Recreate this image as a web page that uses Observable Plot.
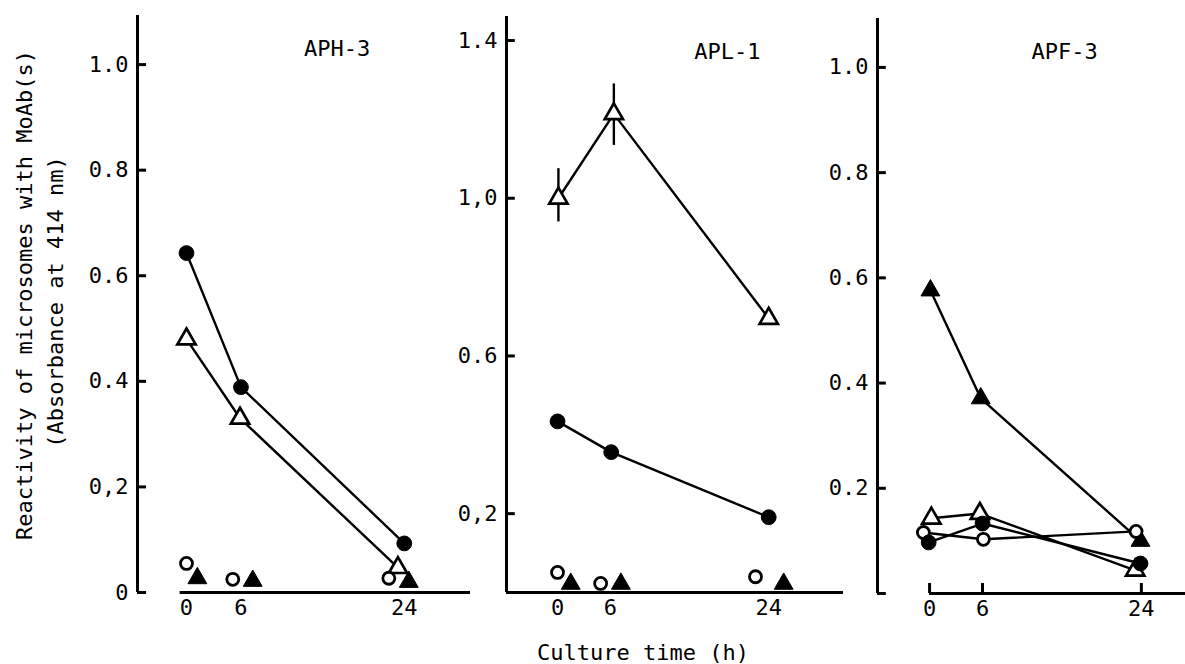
<!DOCTYPE html>
<html>
<head>
<meta charset="utf-8">
<script src="https://cdn.jsdelivr.net/npm/d3@7"></script>
<script src="https://cdn.jsdelivr.net/npm/@observablehq/plot@0.6"></script>
<style>
  html, body { margin: 0; padding: 0; background: white; }
  #chart { position: relative; width: 1185px; height: 664px; overflow: hidden; font-family: 'DejaVu Sans Mono', monospace; color: black; }
  .panel { position: absolute; top: 0; }
  .ytitle { position: absolute; white-space: nowrap; font-size: 22px; transform: translate(-50%, -50%) rotate(-90deg); }
  .xtitle { position: absolute; white-space: nowrap; font-size: 22px; transform: translate(-50%, -50%); }
</style>
</head>
<body>
<div id="chart"></div>
<script>
// ---------- DATA ----------
const xTickValues = [0, 6, 24];
const xTickLabels = ["0", "6", "24"];

// APH-3 panel
const aph3FilledCircleT = [0, 6, 24];
const aph3FilledCircleV = [0.643, 0.389, 0.093];
const aph3OpenTriangleT = [0, 5.9, 23.3];
const aph3OpenTriangleV = [0.48, 0.33, 0.047];
const aph3OpenCircleT = [0, 5.1, 22.3];
const aph3OpenCircleV = [0.055, 0.025, 0.027];
const aph3FilledTriangleT = [1.2, 7.3, 24.5];
const aph3FilledTriangleV = [0.027, 0.022, 0.02];
const aph3YTicks = [0, 0.2, 0.4, 0.6, 0.8, 1.0];
const aph3YLabels = ["0", "0,2", "0.4", "0.6", "0.8", "1.0"];

// APL-1 panel
const apl1FilledCircleT = [0, 6.1, 24];
const apl1FilledCircleV = [0.434, 0.356, 0.191];
const apl1OpenTriangleT = [0.1, 6.4, 24];
const apl1OpenTriangleV = [1.0, 1.214, 0.695];
const apl1OpenTriangleErrLo = [0.94, 1.134, null];
const apl1OpenTriangleErrHi = [1.075, 1.29, null];
const apl1OpenCircleT = [0, 4.9, 22.5];
const apl1OpenCircleV = [0.051, 0.023, 0.04];
const apl1FilledTriangleT = [1.5, 7.2, 25.7];
const apl1FilledTriangleV = [0.022, 0.022, 0.022];
const apl1YTicks = [0, 0.2, 0.6, 1.0, 1.4];
const apl1YLabels = ["", "0,2", "0.6", "1,0", "1.4"];

// APF-3 panel
const apf3FilledCircleT = [-0.1, 6, 23.9];
const apf3FilledCircleV = [0.097, 0.133, 0.057];
const apf3OpenTriangleT = [0.2, 5.7, 23.3];
const apf3OpenTriangleV = [0.143, 0.152, 0.044];
const apf3OpenCircleT = [-0.7, 6.1, 23.4];
const apf3OpenCircleV = [0.116, 0.103, 0.118];
const apf3FilledTriangleT = [0.1, 5.8, 23.9];
const apf3FilledTriangleV = [0.576, 0.371, 0.10];
const apf3YTicks = [0, 0.2, 0.4, 0.6, 0.8, 1.0];
const apf3YLabels = ["", "0.2", "0.4", "0.6", "0.8", "1.0"];

// ---------- helpers ----------
const rows = (t, v, extra = {}) => t.map((tt, i) => {
  const r = {t: tt, v: v[i]};
  for (const k in extra) r[k] = extra[k][i];
  return r;
});

const markerStyles = {
  filledCircle:   {symbol: "circle",   r: 7.4, fill: "black", stroke: "black", strokeWidth: 1},
  openCircle:     {symbol: "circle",   r: 6.0, fill: "white", stroke: "black", strokeWidth: 2.8},
  openTriangle:   {symbol: "triangle", r: 6.8, fill: "white", stroke: "black", strokeWidth: 2.7},
  filledTriangle: {symbol: "triangle", r: 7.0, fill: "black", stroke: "black", strokeWidth: 1}
};

const baseStyle = {
  fontFamily: "'DejaVu Sans Mono', monospace",
  fontSize: "22px",
  color: "black",
  background: "transparent",
  overflow: "visible"
};

function panel(cfg) {
  const marks = [];
  const x0 = cfg.xDomain[0];
  // axis lines
  marks.push(Plot.ruleX([x0], {y1: 0, y2: cfg.yDomain[1], stroke: "black", strokeWidth: 3}));
  marks.push(Plot.ruleY([0], {x1: cfg.baseStart, x2: cfg.xDomain[1], stroke: "black", strokeWidth: 3}));
  // inward y tick marks (length ~1 h of the x scale, about 9 px)
  marks.push(Plot.ruleY(cfg.yTicks, {x1: x0, x2: x0 + cfg.yTickLen, stroke: "black", strokeWidth: 3}));
  // upward x tick marks (APF-3 only)
  if (cfg.xTickUp) marks.push(Plot.ruleX(xTickValues, {y1: 0, y2: cfg.xTickLen, stroke: "black", strokeWidth: 3}));
  // y axis labels
  marks.push(Plot.axisY({
    ticks: cfg.yTicks, tickSize: 0, tickPadding: 9,
    tickFormat: (d) => cfg.yLabels[cfg.yTicks.indexOf(d)], label: null, fontSize: 22
  }));
  // x axis labels
  marks.push(Plot.axisX({
    ticks: xTickValues, tickSize: 0, tickPadding: 7,
    tickFormat: (d) => xTickLabels[xTickValues.indexOf(d)], label: null, fontSize: 22
  }));
  // error bars
  if (cfg.err) marks.push(Plot.ruleX(cfg.err.filter(d => d.lo != null), {x: "t", y1: "lo", y2: "hi", stroke: "black", strokeWidth: 2.4}));
  // lines
  for (const s of cfg.series) {
    if (s.connect) marks.push(Plot.line(s.data, {x: "t", y: "v", stroke: "black", strokeWidth: 2.4}));
  }
  // markers
  for (const s of cfg.series) {
    marks.push(Plot.dot(s.data, {x: "t", y: "v", ...markerStyles[s.kind]}));
  }
  // panel title
  marks.push(Plot.text([cfg.title], {x: cfg.titleAt[0], y: cfg.titleAt[1], fontSize: 22, textAnchor: "middle", fill: "black"}));

  const svg = Plot.plot({
    width: cfg.width, height: 664,
    marginLeft: cfg.ml, marginRight: cfg.mr, marginTop: cfg.mt, marginBottom: cfg.mb,
    x: {domain: cfg.xDomain},
    y: {domain: cfg.yDomain},
    style: baseStyle,
    marks
  });
  svg.classList.add("panel");
  svg.style.left = cfg.left + "px";
  svg.style.maxWidth = "none";
  return svg;
}

const chart = document.getElementById("chart");

chart.appendChild(panel({
  title: "APH-3", titleAt: [16.6, 1.03],
  left: 0, width: 480, ml: 137, mr: 10, mt: 15, mb: 72,
  xDomain: [-5.4, 31.3], yDomain: [0, 1.093], baseStart: -0.7, xTickUp: false, yTickLen: 1.0,
  yTicks: aph3YTicks, yLabels: aph3YLabels,
  series: [
    {kind: "filledCircle", connect: true, data: rows(aph3FilledCircleT, aph3FilledCircleV)},
    {kind: "openTriangle", connect: true, data: rows(aph3OpenTriangleT, aph3OpenTriangleV)},
    {kind: "openCircle", connect: false, data: rows(aph3OpenCircleT, aph3OpenCircleV)},
    {kind: "filledTriangle", connect: false, data: rows(aph3FilledTriangleT, aph3FilledTriangleV)}
  ]
}));

chart.appendChild(panel({
  title: "APL-1", titleAt: [19.3, 1.37],
  left: 440, width: 420, ml: 66, mr: 17, mt: 16, mb: 72,
  xDomain: [-5.8, 32.5], yDomain: [0, 1.461], baseStart: -5.8, xTickUp: false, yTickLen: 1.0,
  yTicks: apl1YTicks, yLabels: apl1YLabels,
  err: rows(apl1OpenTriangleT, apl1OpenTriangleV, {lo: apl1OpenTriangleErrLo, hi: apl1OpenTriangleErrHi}),
  series: [
    {kind: "filledCircle", connect: true, data: rows(apl1FilledCircleT, apl1FilledCircleV)},
    {kind: "openTriangle", connect: true, data: rows(apl1OpenTriangleT, apl1OpenTriangleV)},
    {kind: "openCircle", connect: false, data: rows(apl1OpenCircleT, apl1OpenCircleV)},
    {kind: "filledTriangle", connect: false, data: rows(apl1FilledTriangleT, apl1FilledTriangleV)}
  ]
}));

chart.appendChild(panel({
  title: "APF-3", titleAt: [15.3, 1.03],
  left: 820, width: 365, ml: 57, mr: 0, mt: 18, mb: 71,
  xDomain: [-5.9, 29.0], yDomain: [0, 1.093], baseStart: 0, xTickUp: true, yTickLen: 1.0, xTickLen: 0.019,
  yTicks: apf3YTicks, yLabels: apf3YLabels,
  series: [
    {kind: "filledTriangle", connect: true, data: rows(apf3FilledTriangleT, apf3FilledTriangleV)},
    {kind: "openTriangle", connect: true, data: rows(apf3OpenTriangleT, apf3OpenTriangleV)},
    {kind: "openCircle", connect: true, data: rows(apf3OpenCircleT, apf3OpenCircleV)},
    {kind: "filledCircle", connect: true, data: rows(apf3FilledCircleT, apf3FilledCircleV)}
  ]
}));

// axis titles
const t1 = document.createElement("div");
t1.className = "ytitle"; t1.textContent = "Reactivity of microsomes with MoAb(s)";
t1.style.left = "24px"; t1.style.top = "295px";
chart.appendChild(t1);
const t2 = document.createElement("div");
t2.className = "ytitle"; t2.textContent = "(Absorbance at 414 nm)";
t2.style.left = "55px"; t2.style.top = "302px";
chart.appendChild(t2);
const t3 = document.createElement("div");
t3.className = "xtitle"; t3.textContent = "Culture time (h)";
t3.style.left = "643px"; t3.style.top = "652px";
chart.appendChild(t3);
</script>
</body>
</html>
